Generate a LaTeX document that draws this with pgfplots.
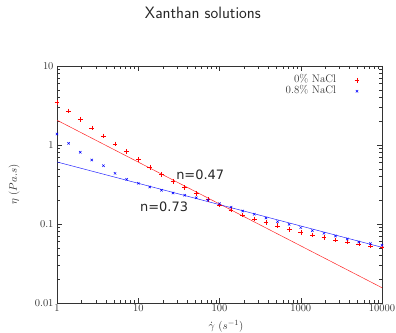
\documentclass[border=0pt]{standalone}
\usepackage{fontspec}
\usepackage{pgfplots}
\pgfplotsset{compat=1.18}
\newfontfamily\dejavu{DejaVu Sans}
\begin{document}
\begin{tikzpicture}
\path[use as bounding box] (-57bp,-30bp) rectangle (339bp,303bp);
\begin{axis}[
  at={(0,0)}, anchor=south west, scale only axis,
  width=325bp, height=237bp,
  xmode=log, ymode=log,
  xmin=1, xmax=10000, ymin=0.01, ymax=10,
  xtick={1,10,100,1000,10000}, xticklabels={1,10,100,1000,10000},
  ytick={0.01,0.1,1,10}, yticklabels={0.01,0.1,1,10},
  tick label style={font=\fontsize{10.5}{12}\selectfont, text=black!80},
  xticklabel style={text height=7bp, text depth=0bp, inner sep=1.5bp},
  major tick length=5bp, minor tick length=3bp,
  axis line style={black!80, line width=0.5pt},
  every tick/.style={black!80, line width=0.4pt},
  xlabel={$\dot{\gamma}\ (s^{-1})$},
  ylabel={$\eta\ (Pa.s)$},
  label style={font=\fontsize{11}{12}\selectfont, text=black!80},
  xlabel style={at={(axis description cs:0.52,-0.099)}, anchor=center, inner sep=0pt},
  ylabel style={at={(axis description cs:-0.132,0.5)}, anchor=center},
  legend plot pos=right,
  legend cell align=right,
  legend style={draw=none, fill=none, at={(axis description cs:0.931,0.964)}, anchor=north east,
    inner sep=0pt, row sep=0pt, column sep=18bp, font=\fontsize{11}{11}\selectfont,
    nodes={inner sep=0.5pt, text height=7.5bp, text depth=2.5bp, text=black!80}},
]
\addplot[only marks, mark=+, mark size=2.4pt, red, mark options={line width=0.5pt}] coordinates {
(1,3.44) (1.389,2.69) (1.931,2.11) (2.683,1.64) (3.728,1.30) (5.179,1.03) (7.197,0.822)
(10,0.659) (13.89,0.522) (19.31,0.426) (26.83,0.347) (37.28,0.292) (51.79,0.245) (71.97,0.205)
(100,0.174) (138.9,0.151) (193.1,0.130) (268.3,0.116) (372.8,0.1055) (517.9,0.095) (719.7,0.086)
(1000,0.0785) (1389,0.0726) (1931,0.068) (2683,0.0627) (3728,0.0592) (5179,0.0558) (7197,0.053) (10000,0.0512)
};
\addlegendentry{0\% NaCl}
\addplot[only marks, mark=x, mark size=1.7pt, blue, mark options={line width=0.5pt}] coordinates {
(1,1.38) (1.389,1.05) (1.931,0.809) (2.683,0.646) (3.728,0.547) (5.179,0.438) (7.197,0.368)
(10,0.327) (13.89,0.294) (19.31,0.267) (26.83,0.247) (37.28,0.231) (51.79,0.215) (71.97,0.201)
(100,0.181) (138.9,0.163) (193.1,0.146) (268.3,0.133) (372.8,0.119) (517.9,0.107) (719.7,0.099)
(1000,0.090) (1389,0.0823) (1931,0.0762) (2683,0.0705) (3728,0.0646) (5179,0.0592) (7197,0.0565) (10000,0.0537)
};
\addlegendentry{0.8\% NaCl}
\addplot[red!85!white, line width=0.5pt, no markers, forget plot] coordinates {(1,2.06) (10000,0.0156)};
\addplot[blue!85!white, line width=0.5pt, no markers, forget plot] coordinates {(1,0.61) (10000,0.0507)};
\node[anchor=west, inner sep=0pt, font=\dejavu\fontsize{13}{14}\selectfont, text=black!85] at (axis cs:29.2,0.417) {n=0.47};
\node[anchor=west, inner sep=0pt, font=\dejavu\fontsize{13}{14}\selectfont, text=black!85] at (axis cs:10.5,0.1655) {n=0.73};
\end{axis}
\node[font=\fontsize{16.5}{18}\selectfont\sffamily, text=black!85] at (145.9bp,290bp) {Xanthan solutions};
\end{tikzpicture}
\end{document}
